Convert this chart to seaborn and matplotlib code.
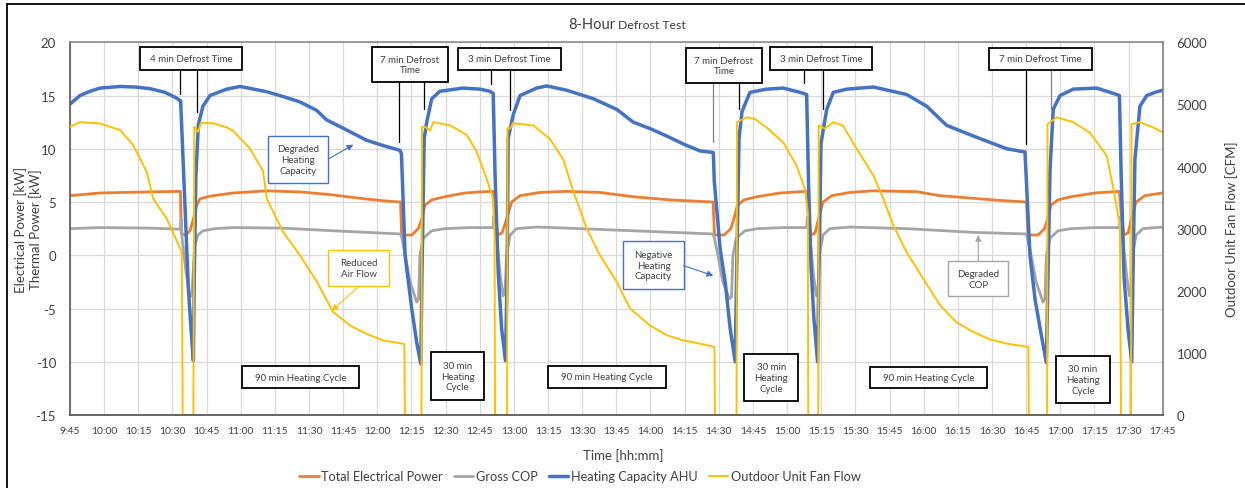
import matplotlib
matplotlib.use("Agg")
import matplotlib.pyplot as plt
import seaborn as sns
from matplotlib.patches import Rectangle, FancyArrowPatch
from matplotlib.lines import Line2D

# ---------------- data (time = minutes after 09:45) ----------------
time_labels = ["9:45", "10:00", "10:15", "10:30", "10:45", "11:00", "11:15", "11:30",
               "11:45", "12:00", "12:15", "12:30", "12:45", "13:00", "13:15", "13:30",
               "13:45", "14:00", "14:15", "14:30", "14:45", "15:00", "15:15", "15:30",
               "15:45", "16:00", "16:15", "16:30", "16:45", "17:00", "17:15", "17:30", "17:45"]

power_t = [0, 13.2, 35.1, 48.5, 48.9, 50.9, 52.7, 54.2, 55.7, 57.1, 61.5, 71.6, 86.4, 101.0,
           114.2, 127.4, 138.4, 145.2, 145.7, 150.1, 153.0, 154.5, 155.9, 158.9, 164.7, 173.5,
           180.1, 185.8, 186.5, 188.0, 189.8, 191.8, 194.0, 197.7, 206.5, 218.2, 232.8, 247.3,
           263.6, 282.5, 283.1, 287.3, 290.3, 291.6, 293.2, 296.1, 301.8, 311.9, 323.6, 324.2,
           325.5, 327.3, 328.8, 330.8, 334.7, 342.6, 352.7, 371.9, 382.2, 396.7, 408.5, 420.2,
           420.8, 425.2, 428.1, 429.4, 430.9, 434.0, 439.7, 450.3, 461.0, 461.7, 463.0, 464.8,
           466.3, 468.3, 472.2, 480.0]
power_kw = [5.6, 5.85, 5.95, 6.0, 2.0, 1.9, 2.3, 3.4, 4.7, 5.3, 5.55, 5.85, 6.05, 5.95,
            5.7, 5.35, 5.1, 5.0, 1.9, 1.9, 2.5, 3.4, 4.7, 5.2, 5.5, 5.85,
            5.95, 6.0, 4.0, 1.9, 2.1, 3.4, 5.0, 5.6, 5.9, 6.0, 5.9, 5.5,
            5.2, 5.0, 1.9, 1.9, 2.5, 3.4, 4.7, 5.2, 5.5, 5.85, 6.0, 4.0,
            1.9, 2.1, 3.4, 5.0, 5.6, 5.9, 6.05, 5.97, 5.6, 5.35, 5.15, 5.0,
            1.9, 1.9, 2.5, 3.4, 4.7, 5.2, 5.5, 5.85, 6.0, 4.0, 1.9, 2.1,
            3.4, 5.0, 5.6, 5.85]

cop_t = [0, 13.2, 35.1, 48.5, 48.8, 49.3, 50.9, 52.3, 52.9, 53.6, 54.3, 54.9, 56.2, 58.4,
         63.7, 71.6, 93.6, 115.5, 130.5, 145.2, 145.8, 147.2, 149.4, 152.3, 153.1, 153.7,
         155.2, 158.9, 164.7, 175.7, 185.8, 186.2, 187.4, 189.2, 190.3, 191.1, 191.8, 193.3,
         196.2, 205.1, 218.2, 247.3, 276.7, 282.5, 283.1, 284.6, 286.8, 289.7, 290.6, 291.2,
         292.7, 296.5, 302.2, 313.2, 323.6, 323.9, 325.1, 326.8, 327.9, 328.6, 329.2, 330.8,
         333.8, 342.6, 367.5, 396.8, 420.0, 420.6, 422.2, 424.4, 427.4, 428.3, 428.9, 430.5,
         434.0, 439.7, 450.3, 461.0, 461.4, 462.5, 464.3, 465.4, 466.1, 466.7, 468.3, 471.3,
         480.0]
cop_val = [2.5, 2.6, 2.55, 2.45, 3.4, 1.5, -1.5, -3.5, -3.9, -3.4, -1.0, 1.0, 1.9, 2.3,
           2.5, 2.6, 2.55, 2.3, 2.15, 2.0, 1.6, 0.0, -2.5, -4.4, -4.1, 0.0,
           1.6, 2.3, 2.5, 2.6, 2.6, 3.7, 1.6, -2.2, -3.8, -3.3, 0.0, 1.9,
           2.5, 2.65, 2.55, 2.3, 2.05, 2.0, 1.6, 0.0, -2.5, -4.1, -3.9, 0.0,
           1.6, 2.3, 2.5, 2.6, 2.6, 3.6, 1.6, -2.2, -3.8, -3.3, 0.0, 1.9,
           2.5, 2.65, 2.5, 2.15, 2.0, 1.6, 0.0, -2.5, -4.4, -4.1, 0.0, 1.6,
           2.3, 2.5, 2.6, 2.6, 3.6, 1.6, -2.2, -3.8, -3.3, 0.0, 1.9, 2.5,
           2.65]

cap_t = [0, 2.2, 4.4, 8.8, 13.2, 22.0, 28.6, 35.1, 41.7, 46.1, 48.6, 50.5, 52.0, 53.2, 54.2,
         54.6, 55.3, 56.4, 58.4, 61.5, 68.8, 74.7, 86.4, 93.7, 101.0, 108.4, 112.8, 115.7,
         123.0, 130.3, 137.6, 145.0, 145.6, 147.2, 150.1, 152.3, 154.1, 154.6, 155.6, 156.7,
         158.9, 162.5, 172.6, 180.1, 184.5, 185.9, 186.7, 188.1, 189.6, 191.3, 192.0, 192.5,
         194.7, 197.7, 205.0, 209.4, 218.2, 229.9, 240.2, 247.4, 254.8, 262.1, 269.4, 276.7,
         282.6, 283.0, 285.6, 287.8, 290.0, 292.2, 292.8, 293.9, 295.2, 298.7, 306.0, 313.3,
         320.7, 323.6, 324.4, 325.5, 326.8, 328.4, 329.0, 329.9, 332.4, 335.3, 341.2, 352.9,
         367.5, 376.3, 385.1, 396.8, 404.1, 411.5, 419.5, 421.7, 423.9, 426.1, 428.9, 429.6,
         430.5, 431.9, 434.9, 440.7, 451.0, 459.8, 461.0, 461.7, 463.0, 464.8, 466.4, 467.0,
         467.8, 470.0, 473.0, 476.6, 480.0]
cap_kw = [14.2, 14.6, 15.0, 15.4, 15.7, 15.85, 15.8, 15.65, 15.3, 14.85, 14.5, 4.7, -3.1, -7.0, -9.9,
          -2.0, 7.5, 12.3, 14.0, 15.0, 15.6, 15.85, 15.36, 14.9, 14.4, 13.6, 12.7, 12.4,
          11.6, 10.8, 10.3, 9.85, 9.5, 0.0, -5.0, -8.2, -10.2, -2.0, 11.0, 12.5,
          14.7, 15.4, 15.7, 15.6, 15.4, 15.2, 7.8, -1.6, -6.9, -9.9, -2.0, 11.0,
          13.2, 15.0, 15.7, 15.9, 15.5, 14.7, 13.7, 12.5, 11.9, 11.2, 10.45, 9.8,
          9.65, 7.0, 0.6, -2.5, -6.9, -10.0, -2.0, 11.0, 13.5, 15.3, 15.6, 15.7,
          15.3, 15.1, 7.0, -1.0, -6.0, -10.0, -1.0, 10.5, 13.7, 15.3, 15.6, 15.8,
          15.1, 14.0, 12.2, 11.2, 10.6, 10.0, 9.7, 0.0, -4.1, -6.8, -10.1, -2.0,
          8.0, 13.7, 15.0, 15.6, 15.7, 15.1, 15.0, 8.0, -2.0, -7.0, -10.0, -1.0,
          9.0, 14.0, 15.0, 15.3, 15.5]

fan_t = [0, 4.4, 13.2, 22.0, 27.8, 33.7, 36.6, 42.5, 49.1, 49.5, 54.2, 54.6, 55.3, 56.2, 57.5,
         62.8, 68.8, 71.6, 79.1, 84.8, 86.5, 93.6, 101.0, 108.5, 115.5, 123.0, 130.5, 137.5,
         145.8, 146.9, 147.1, 154.4, 154.6, 156.4, 158.1, 159.6, 166.9, 174.3, 178.7, 183.0,
         185.9, 186.5, 186.7, 192.0, 192.2, 193.3, 194.6, 203.5, 210.9, 216.7, 221.1, 227.0,
         232.8, 240.2, 246.0, 254.8, 262.1, 269.4, 276.7, 283.1, 283.3, 292.8, 293.0, 297.2,
         300.9, 306.0, 313.3, 319.2, 322.9, 324.1, 324.3, 328.7, 328.9, 331.6, 335.3, 339.5,
         345.6, 352.9, 357.3, 361.7, 367.5, 374.8, 382.2, 389.5, 396.8, 404.1, 411.5, 421.0,
         421.2, 429.2, 429.4, 433.4, 440.7, 448.1, 455.4, 458.3, 461.2, 461.7, 466.1, 466.3,
         470.0, 475.8, 480.0]
fan_cfm = [4640, 4714, 4693, 4586, 4344, 3914, 3480, 3161, 2623, 0, 0, 4640, 4600, 4560, 4700,
           4697, 4629, 4577, 4286, 3926, 3480, 2949, 2571, 2143, 1663, 1440, 1303, 1200,
           1149, 1140, 0, 0, 4640, 4630, 4577, 4714, 4663, 4509, 4234, 3806,
           3480, 2846, 0, 0, 4620, 4611, 4697, 4663, 4440, 4114, 3600, 3000,
           2571, 2143, 1714, 1440, 1286, 1200, 1149, 1097, 0, 0, 4714, 4793,
           4766, 4629, 4389, 4011, 3634, 3257, 0, 0, 4663, 4611, 4714, 4660,
           4286, 3857, 3480, 3051, 2623, 2194, 1766, 1491, 1337, 1217, 1149, 1097,
           0, 0, 4680, 4793, 4714, 4543, 4174, 3650, 3051, 0, 0, 4680,
           4714, 4629, 4551]

series_names = ["Total Electrical Power", "Gross COP", "Heating Capacity AHU", "Outdoor Unit Fan Flow"]

# ---------------- style ----------------
ORANGE, GRAY, BLUE, YELLOW = "#ED7D31", "#A5A5A5", "#4472C4", "#FFC000"
TXT = "#404040"

sns.set_style("white")
plt.rcParams["font.family"] = ["Lato", "DejaVu Sans"]
plt.rcParams["axes.unicode_minus"] = False

W, H = 1245, 489
fig = plt.figure(figsize=(W / 100, H / 100), dpi=100)


def fx(x):
    return x / W


def fy(y):
    return 1 - y / H


ax = fig.add_axes([fx(70), fy(416), (1162.7 - 70) / W, (416 - 43.3) / H])
ax2 = ax.twinx()

sns.lineplot(x=power_t, y=power_kw, ax=ax, color=ORANGE, linewidth=2.0,
             sort=False, estimator=None, label=series_names[0], legend=False)
sns.lineplot(x=cop_t, y=cop_val, ax=ax, color=GRAY, linewidth=2.0,
             sort=False, estimator=None, label=series_names[1], legend=False)
sns.lineplot(x=cap_t, y=cap_kw, ax=ax, color=BLUE, linewidth=2.5,
             sort=False, estimator=None, label=series_names[2], legend=False)
sns.lineplot(x=fan_t, y=fan_cfm, ax=ax2, color=YELLOW, linewidth=1.4,
             sort=False, estimator=None, label=series_names[3], legend=False)

# axes, ticks, grid
ax.set_xlim(0, 480)
ax.set_ylim(-15, 20)
ax2.set_ylim(0, 6000)
ax.set_xticks([15 * i for i in range(len(time_labels))])
ax.set_xticklabels(time_labels)
ax.set_yticks(range(-15, 21, 5))
ax2.set_yticks(range(0, 6001, 1000))
ax.grid(True, color="#D9D9D9", linewidth=0.9)
ax.set_axisbelow(True)
ax.tick_params(axis="x", length=0, pad=8, labelsize=7.5, labelcolor=TXT)
ax.tick_params(axis="y", length=0, pad=10, labelsize=9.5, labelcolor=TXT)
ax2.tick_params(axis="y", length=0, pad=10, labelsize=9.5, labelcolor=TXT)

for name, sp in ax.spines.items():
    sp.set_color("#595959" if name == "left" else "#8C8C8C")
    sp.set_linewidth(1.2)
ax.spines["right"].set_visible(False)
ax.spines["bottom"].set_visible(False)
for name, sp in ax2.spines.items():
    sp.set_visible(name in ("right", "bottom"))
ax2.spines["right"].set_color("#7F7F7F")
ax2.spines["right"].set_linewidth(1.2)
ax2.spines["bottom"].set_color("#595959")
ax2.spines["bottom"].set_linewidth(1.3)

ax.set_xlabel("Time [hh:mm]", fontsize=9.5, color=TXT)
ax.xaxis.set_label_coords((623 - 70) / 1092.7, (416 - 449) / 372.7)
ax.set_ylabel("Electrical Power [kW]\nThermal Power [kW]", fontsize=9.5, color=TXT,
              linespacing=1.15)
ax.yaxis.set_label_coords((42 - 70) / 1092.7, 0.5)
ax2.set_ylabel("Outdoor Unit Fan Flow [CFM]", fontsize=9.5, color=TXT)
ax2.yaxis.set_label_coords((1225 - 70) / 1092.7, 0.5)

# title with two font sizes
fig.text(fx(615), fy(25), "8-Hour", ha="right", va="center", fontsize=10.5, color=TXT)
fig.text(fx(618), fy(25.5), "Defrost Test", ha="left", va="center", fontsize=8.8, color=TXT)

# outer chart frame
fig.add_artist(Line2D([fx(7), fx(7)], [fy(5), 0], transform=fig.transFigure, color="black", lw=1.3))
fig.add_artist(Line2D([fx(7), 1], [fy(5), fy(5)], transform=fig.transFigure, color="black", lw=1.3))

# legend
handles = ax.get_lines() + ax2.get_lines()
fig.legend(handles, series_names, loc="center", bbox_to_anchor=(fx(580), fy(477)), ncol=4,
           frameon=False, fontsize=9.2, handlelength=1.5, handletextpad=0.2, columnspacing=0.9,
           labelcolor=TXT)


def box(x0, y0, x1, y1, text, edge="black", lw=1.3, size=7.0):
    fig.add_artist(Rectangle((fx(x0), fy(y1)), fx(x1) - fx(x0), fy(y0) - fy(y1),
                             transform=fig.transFigure, facecolor="white", edgecolor=edge,
                             linewidth=lw, zorder=5))
    fig.text(fx((x0 + x1) / 2), fy((y0 + y1) / 2), text, ha="center", va="center",
             fontsize=size, color=TXT, linespacing=1.25, zorder=6)


def leader(x, y0, y1, color="black"):
    fig.add_artist(Line2D([fx(x), fx(x)], [fy(y0), fy(y1)], transform=fig.transFigure,
                          color=color, lw=0.9, zorder=4))


def arrow(x0, y0, x1, y1, color):
    fig.add_artist(FancyArrowPatch((fx(x0), fy(y0)), (fx(x1), fy(y1)), transform=fig.transFigure,
                                   arrowstyle="-|>", mutation_scale=9, color=color, lw=0.8,
                                   shrinkA=0, shrinkB=0, zorder=6))


# defrost time callouts
box(140, 48, 242, 71, "4 min Defrost Time")
leader(180, 71, 95)
leader(197, 71, 113)
box(372, 48, 448, 83, "7 min Defrost\nTime")
leader(399, 83, 143)
leader(424, 83, 110)
box(458, 49, 561, 71, "3 min Defrost Time")
leader(491, 71, 85)
leader(509.7, 71, 111)
box(685.7, 49, 762.3, 84, "7 min Defrost\nTime")
leader(713, 84, 143, "#808080")
leader(739, 84, 110)
box(770, 48, 872, 71, "3 min Defrost Time")
leader(804, 71, 84)
leader(822.7, 71, 110)
box(989.3, 49, 1091.7, 71, "7 min Defrost Time")
leader(1025.7, 71, 145)
leader(1050.7, 71, 110, "#808080")

# heating cycle labels
box(241.7, 367.3, 359, 389.3, "90 min Heating Cycle")
box(548.3, 366.7, 665.7, 389, "90 min Heating Cycle")
box(870, 367.7, 986.7, 389.3, "90 min Heating Cycle")
box(431, 353.3, 484.3, 401, "30 min\nHeating\nCycle")
box(744.3, 355, 798.3, 402.3, "30 min\nHeating\nCycle")
box(1056, 356.7, 1110, 404, "30 min\nHeating\nCycle")

# observation callouts
box(268.3, 136.7, 328.3, 184, "Degraded\nHeating\nCapacity", edge=BLUE, lw=1.0)
arrow(328.3, 160, 353.3, 145.7, BLUE)
box(328.3, 251, 389, 286.7, "Reduced\nAir Flow", edge=YELLOW, lw=1.0)
arrow(359, 287.3, 331.7, 311.7, YELLOW)
box(623.3, 242.3, 683.7, 290, "Negative\nHeating\nCapacity", edge=BLUE, lw=1.0)
arrow(683.7, 266.7, 713.3, 276.7, BLUE)
box(948.3, 262.3, 1008.3, 297.3, "Degraded\nCOP", edge=GRAY, lw=1.0)
arrow(978.3, 262.3, 978.3, 236, GRAY)

fig.savefig("out.png", dpi=100)
